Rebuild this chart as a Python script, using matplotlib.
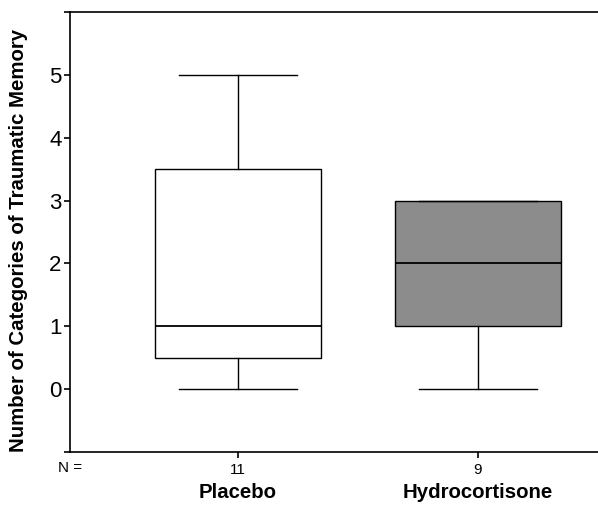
import matplotlib.pyplot as plt

plt.rcParams['font.family'] = ['Liberation Sans', 'DejaVu Sans']

groups = ['Placebo', 'Hydrocortisone']
counts = [11, 9]
whisker_low = [0, 0]
q1 = [0.5, 1]
median = [1, 2]
q3 = [3.5, 3]
whisker_high = [5, 3]
fills = ['white', '#8c8c8c']

fig = plt.figure(figsize=(5.98, 5.05), dpi=100)
ax = fig.add_axes([70 / 598, 1 - 452 / 505, 1 - 70 / 598, (452 - 12) / 505])

stats = []
for i, g in enumerate(groups):
    stats.append({'label': g, 'whislo': whisker_low[i], 'q1': q1[i], 'med': median[i],
                  'q3': q3[i], 'whishi': whisker_high[i], 'fliers': []})

line = dict(color='black', linewidth=1.0)
bp = ax.bxp(stats, positions=[1, 2], widths=0.69, patch_artist=True, showfliers=False,
            boxprops=dict(edgecolor='black', linewidth=1.0), medianprops=dict(color='black', linewidth=1.3),
            whiskerprops=line, capprops=line, capwidths=0.49)
for patch, c in zip(bp['boxes'], fills):
    patch.set_facecolor(c)

ax.set_xlim(0.3, 2.5)
ax.set_ylim(-1, 6)
ax.set_yticks([-1, 0, 1, 2, 3, 4, 5, 6])
ax.set_yticklabels(['', '0', '1', '2', '3', '4', '5', ''], fontsize=16)
ax.set_xticks([1, 2])
ax.set_xticklabels([str(n) for n in counts], fontsize=11)
ax.tick_params(axis='y', length=4, width=1.2, pad=2)
ax.tick_params(axis='x', length=4, width=1.2, pad=4)
ax.spines['right'].set_visible(False)
for s in ['left', 'bottom', 'top']:
    ax.spines[s].set_linewidth(1.2)

ax.text(70 / 598, 1 - 468 / 505, 'N =', transform=fig.transFigure, fontsize=11, ha='center', va='center')
for pos, g in zip([1, 2], groups):
    ax.text(pos, -1.65, g, fontsize=14.7, fontweight='bold', ha='center', va='center')

ax.set_ylabel('Number of Categories of Traumatic Memory', fontsize=14.7, fontweight='bold')
ax.yaxis.set_label_coords(-0.079, 0.48)

fig.savefig('out.png', dpi=100)
